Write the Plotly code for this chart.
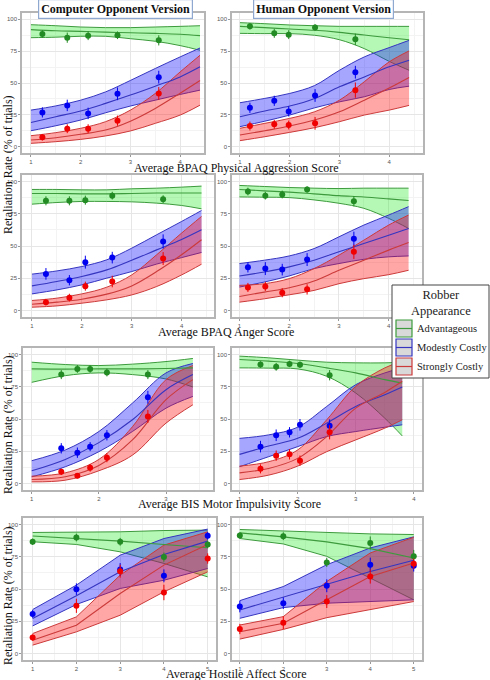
import plotly.graph_objects as go

groups = ["Advantageous", "Modestly Costly", "Strongly Costly"]
versions = ["Computer Opponent Version", "Human Opponent Version"]
x_titles = ["Average BPAQ Physical Aggression Score", "Average BPAQ Anger Score",
            "Average BIS Motor Impulsivity Score", "Average Hostile Affect Score"]
y_title = "Retaliation Rate (% of trials)"

# ---- BPAQ physical aggression ----
pa_bx = [1, 1.5, 2, 2.5, 3, 3.5, 4, 4.4]
# computer
pa_c_x = [1.23, 1.73, 2.15, 2.74, 3.57]
pa_c_y = [[88.5, 85.6, 87.2, 87.5, 83.5],
          [26.9, 32.4, 26.1, 41.5, 54.6],
          [7.3, 14.1, 14.1, 20.4, 41.8]]
pa_c_err = [[3, 4, 3.5, 3, 4], [4, 4.5, 4.5, 5, 5], [2.5, 3.5, 3.5, 4, 5]]
pa_c_hi = [[95.8, 95, 94, 93.5, 93.5, 94, 94.5, 95],
           [28.7, 32, 36.5, 43, 52, 61.4, 70.5, 77.5],
           [8.6, 11, 14.4, 19.6, 28.7, 41.8, 58.7, 71.8]]
pa_c_fit = [[91.9, 91, 90.6, 90, 89.5, 89, 88.3, 87.2],
            [19, 23.5, 28, 34, 40.5, 47.5, 54.8, 62.7],
            [5.2, 7, 9.7, 13, 20, 30, 42, 52]]
pa_c_lo = [[85.6, 86, 86.7, 86.7, 84.8, 82.8, 79.4, 75.7],
           [12.5, 16.4, 20.9, 26.6, 31.9, 36.5, 41, 44.4],
           [2.6, 3.9, 5.7, 8.4, 12.3, 18.3, 24.8, 32.6]]
# human
pa_h_x = [1.2, 1.69, 1.98, 2.51, 3.32]
pa_h_y = [[94.5, 89, 88, 93.7, 84.3],
          [30.5, 36, 27.7, 40.2, 58.5],
          [16.2, 17.5, 17, 18.3, 44.4]]
pa_h_err = [[2.5, 3.5, 3.5, 2.5, 4.5], [4, 4, 4, 5, 5], [3.5, 3.5, 3.5, 5, 6]]
pa_h_hi = [[97.4, 96.6, 95.6, 95, 94.5, 94.5, 94.5, 94.5],
           [34.5, 37.9, 41.8, 48, 60, 70.5, 77.8, 83.5],
           [14.4, 18.3, 22.2, 27.4, 36.5, 51, 66.6, 75.2]]
pa_h_fit = [[94.5, 93.5, 92.4, 91.4, 89.8, 87.7, 85.6, 84],
            [23.5, 28, 31.9, 37.9, 47, 54.8, 62.7, 67.9],
            [9.1, 12.5, 16.2, 20.9, 27.4, 36.5, 46, 54.3]]
pa_h_lo = [[89, 88.8, 88.8, 87.5, 84, 77, 67, 60],
           [15.7, 20, 24.8, 30.5, 35.2, 39.2, 44.9, 47.5],
           [4.7, 7.8, 11.2, 14.9, 19.6, 24.8, 28.7, 32.4]]

# ---- BPAQ anger ----
ang_bx = [1, 1.5, 2, 2.5, 3, 3.5, 4, 4.4]
ang_c_x = [1.28, 1.75, 2.07, 2.61, 3.63]
ang_c_y = [[85, 85, 85.5, 89, 86.3],
           [28.4, 23.5, 37.5, 41, 53.5],
           [6.5, 10, 18.9, 22.5, 40.3]]
ang_c_err = [[3.5, 3.5, 3.5, 3, 3], [4.5, 4, 5, 4.5, 5.5], [2.5, 3, 3.5, 4.5, 5]]
ang_c_hi = [[93.8, 93.8, 93.5, 93.5, 94.3, 94.8, 95.6, 96.4],
            [28.2, 30.7, 34.1, 39.3, 48.3, 58.7, 69, 77.5],
            [7.8, 9.6, 12.9, 18.1, 27.6, 43.2, 60, 72.9]]
ang_c_fit = [[90.7, 90.7, 90.4, 90.4, 90.7, 91, 91, 91],
             [19.1, 22.5, 26.4, 31.5, 39, 47, 55, 62.5],
             [4.9, 6.5, 8.8, 12.7, 19.1, 30.2, 43.2, 54.8]]
ang_c_lo = [[82.4, 83.7, 84.5, 84.5, 84.2, 83.2, 81.4, 78.8],
            [12.9, 16, 19.9, 25.1, 30.2, 36, 41, 45],
            [2.6, 3.6, 5.7, 8.3, 12.1, 18.6, 27.6, 35.9]]
ang_h_x = [1.17, 1.52, 1.86, 2.36, 3.3]
ang_h_y = [[92.2, 89, 89.9, 93.8, 84.7],
           [33.5, 32.5, 31.7, 39.5, 55.6],
           [17.9, 18.7, 13.8, 16.4, 45.5]]
ang_h_err = [[3, 3, 3, 2.5, 4], [4, 5, 4.5, 5, 5.5], [3.5, 3.5, 3.5, 4, 5.5]]
ang_h_hi = [[96.9, 96.1, 95.3, 94.8, 94.5, 94.8, 94.8, 94.8],
            [36.4, 39, 42.3, 48, 57.1, 66.2, 74, 80.5],
            [19.5, 20.8, 24.7, 32.5, 42.9, 54.5, 66.2, 74]]
ang_h_fit = [[93.8, 92.7, 91.7, 90.4, 89, 88, 86.5, 85.2],
             [26.8, 29.9, 33.8, 39, 45.5, 51.9, 58.4, 63.6],
             [10.9, 14.3, 17.7, 22.9, 31.2, 39, 46.8, 52.7]]
ang_h_lo = [[88, 87.8, 87.5, 85.7, 83.1, 79.2, 71.4, 63.6],
            [18.2, 22.1, 26.8, 32.5, 36.4, 39.7, 41.6, 42.3],
            [6.5, 9.1, 12.2, 15.6, 20.8, 24.7, 27.8, 31.2]]

# ---- BIS motor impulsivity ----
bis_c_bx = [1, 1.5, 2, 2.5, 3, 3.4]
bis_c_x = [1.44, 1.68, 1.87, 2.12, 2.73]
bis_c_y = [[84.4, 88.8, 88.8, 86, 84.4],
           [27.3, 23.9, 28.6, 37.4, 66.8],
           [9.1, 6, 12.2, 20, 52]]
bis_c_err = [[3.5, 3, 3, 3, 3.5], [4, 4, 3.5, 4, 5], [2.5, 2, 3, 3.5, 5]]
bis_c_hi = [[94, 92.2, 91.4, 92.5, 94.5, 96.9],
            [17.7, 26, 40.3, 62.3, 85.7, 93],
            [5.7, 8.3, 18.7, 44, 80.5, 91.4]]
bis_c_fit = [[88.8, 88.6, 88.8, 88.8, 89.1, 89.6],
             [9.9, 18.7, 31.7, 49.4, 72.7, 84.4],
             [3.1, 5.2, 14, 33.8, 65, 80.5]]
bis_c_lo = [[78.4, 83.6, 85.7, 84.4, 81, 74.8],
            [5.2, 13, 24.7, 40.3, 58.4, 67.5],
            [1.3, 2.6, 9.9, 22, 46.8, 61]]
bis_h_bx = [1, 1.5, 2, 2.5, 3, 3.5, 3.8]
bis_h_x = [1.36, 1.63, 1.86, 2.04, 2.55]
bis_h_y = [[92.2, 90.4, 92.7, 92, 83.9],
           [28.6, 37.4, 39.7, 45.5, 44.7],
           [11.4, 21.6, 22.6, 17.7, 39.7]]
bis_h_err = [[2.5, 3, 2.5, 2.5, 4], [4.5, 4.5, 4, 4.5, 5], [3.5, 4, 4, 4, 5.5]]
bis_h_hi = [[98.7, 97.4, 95.6, 94, 93.5, 93.5, 94],
            [35, 37.7, 43.6, 59.7, 76.6, 85.7, 89.6],
            [13.5, 16.9, 26, 49.4, 75.3, 89.6, 94.8]]
bis_h_fit = [[96.1, 94.8, 93, 89.6, 85.7, 80.5, 77.9],
             [22.6, 29.1, 35, 46.8, 59.7, 68.8, 74.8],
             [8.3, 11.7, 19.5, 36.4, 58.4, 70.6, 79.2]]
bis_h_lo = [[89.6, 89.4, 88.8, 83.1, 70.1, 50.6, 36.9],
            [13, 20.8, 28.6, 36.4, 40.3, 43.6, 45.5],
            [3.1, 6.5, 13.5, 24.7, 33.8, 42.9, 49.4]]

# ---- hostile affect ----
hos_bx = [1, 2, 3, 4, 5]
hos_c_x = [1, 2, 3, 4, 5]
hos_c_y = [[86.6, 89.9, 86.6, 74.7, 84.5],
           [30.7, 49.9, 65.1, 60.2, 91.2],
           [12.4, 37, 63.8, 47.3, 73.6]]
hos_c_err = [[2.5, 3, 3, 3.5, 3], [3, 4.5, 5, 5, 3], [2.5, 5.5, 5, 6, 4]]
hos_c_hi = [[93.8, 93.8, 94.3, 95.3, 95.6],
            [34.1, 53, 76.2, 89.1, 96.4],
            [15.5, 28.4, 60.7, 84, 94.3]]
hos_c_fit = [[91, 89.1, 87.1, 84.5, 81.9],
             [27.1, 44.7, 63.3, 76.7, 87.1],
             [10.3, 22, 46.5, 68.5, 84.5]]
hos_c_lo = [[86.6, 84.5, 78.8, 69.8, 59.4],
            [21.4, 38, 50.4, 56.8, 65.9],
            [6.5, 16.8, 29.7, 47.8, 63.3]]
hos_h_x = [1, 2, 3, 4, 5]
hos_h_y = [[91.4, 90.9, 70.6, 85.7, 75.3],
           [36.4, 39, 52.5, 68.8, 68],
           [19, 23.9, 40.3, 59.7, 69.6]]
hos_h_err = [[2.5, 3, 3.5, 5, 5], [4.5, 4.5, 5, 5.5, 4.5], [4, 5, 5, 5.5, 4]]
hos_h_hi = [[96.1, 94.8, 93.5, 92.7, 92.2],
            [41, 51.9, 68.8, 81.8, 90.4],
            [22.1, 28.6, 55.8, 77.9, 90.1]]
hos_h_fit = [[93.5, 90.4, 86.5, 81.3, 74],
             [33.8, 43.6, 53.2, 63.6, 72.2],
             [16.9, 23.4, 41.6, 59.7, 70.1]]
hos_h_lo = [[89.1, 84.9, 75.3, 58.4, 41.6],
            [27.3, 35.6, 39, 40.3, 41.6],
            [11.2, 18.7, 27.8, 33.8, 40.3]]

W, H = 490, 680
fills = ["rgba(30,230,30,0.33)", "rgba(20,20,255,0.38)", "rgba(255,20,20,0.38)"]
edges = ["#3d9b3d", "#3535c0", "#cc3a3a"]
dots = ["#238b23", "#0000f0", "#f00000"]
serif = "Liberation Serif"

# panel boxes in pixels: (left, right, top, bottom), x range
panels = [
    (pa_bx, pa_c_x, pa_c_y, pa_c_err, pa_c_hi, pa_c_fit, pa_c_lo, (22, 204, 13, 153), [0.82, 4.48]),
    (pa_bx, pa_h_x, pa_h_y, pa_h_err, pa_h_hi, pa_h_fit, pa_h_lo, (232, 423, 13, 153), [0.84, 4.68]),
    (ang_bx, ang_c_x, ang_c_y, ang_c_err, ang_c_hi, ang_c_fit, ang_c_lo, (22, 214, 175, 317), [0.8, 4.65]),
    (ang_bx, ang_h_x, ang_h_y, ang_h_err, ang_h_hi, ang_h_fit, ang_h_lo, (232, 422, 175, 317), [0.85, 4.67]),
    (bis_c_bx, bis_c_x, bis_c_y, bis_c_err, bis_c_hi, bis_c_fit, bis_c_lo, (23, 213, 348, 490), [0.87, 3.70]),
    (bis_h_bx, bis_h_x, bis_h_y, bis_h_err, bis_h_hi, bis_h_fit, bis_h_lo, (232, 422, 348, 490), [0.87, 4.14]),
    (hos_bx, hos_c_x, hos_c_y, hos_c_err, hos_c_hi, hos_c_fit, hos_c_lo, (23, 216, 518, 660), [0.78, 5.19]),
    (hos_bx, hos_h_x, hos_h_y, hos_h_err, hos_h_hi, hos_h_fit, hos_h_lo, (232, 422, 518, 660), [0.82, 5.19]),
]

fig = go.Figure()
layout = {}
for i, (bx, px, py, perr, hi, fit, lo, box, xr) in enumerate(panels):
    n = i + 1
    xa = "x" if n == 1 else f"x{n}"
    ya = "y" if n == 1 else f"y{n}"
    shape = "linear" if i >= 6 else "spline"
    # ribbons
    for g in range(3):
        fig.add_trace(go.Scatter(x=bx, y=lo[g], mode="lines", xaxis=xa, yaxis=ya,
                                 line=dict(color=edges[g], width=1, shape=shape),
                                 showlegend=False, hoverinfo="skip"))
        fig.add_trace(go.Scatter(x=bx, y=hi[g], mode="lines", xaxis=xa, yaxis=ya,
                                 fill="tonexty", fillcolor=fills[g],
                                 line=dict(color=edges[g], width=1, shape=shape),
                                 showlegend=False, hoverinfo="skip"))
    # fitted lines
    for g in range(3):
        fig.add_trace(go.Scatter(x=bx, y=fit[g], mode="lines", xaxis=xa, yaxis=ya,
                                 line=dict(color=edges[g], width=1.1, shape=shape),
                                 showlegend=False, name=groups[g]))
    # observed means
    for g in range(3):
        fig.add_trace(go.Scatter(x=px, y=py[g], mode="markers", xaxis=xa, yaxis=ya,
                                 marker=dict(color=dots[g], size=6),
                                 error_y=dict(type="data", array=perr[g], width=0,
                                              thickness=1, color=dots[g]),
                                 showlegend=False, name=groups[g]))

    l, r, t, b = box
    common = dict(showgrid=True, gridcolor="#e6e6e6", gridwidth=0.8,
                  zeroline=False, showline=True, mirror=True,
                  linecolor="#b5b5b5", linewidth=1.5,
                  ticks="outside", ticklen=2, tickcolor="#999999",
                  tickfont=dict(size=6, color="#555555", family="Liberation Sans"))
    layout["xaxis" if n == 1 else f"xaxis{n}"] = dict(
        domain=[l / W, r / W], range=xr, anchor=ya, tickmode="linear", tick0=1, dtick=1,
        minor=dict(dtick=0.5, tick0=0.5, showgrid=True, gridcolor="#f3f3f3", gridwidth=0.6),
        **common)
    layout["yaxis" if n == 1 else f"yaxis{n}"] = dict(
        domain=[1 - b / H, 1 - t / H], range=[-5, 105], anchor=xa,
        tickmode="linear", tick0=0, dtick=25,
        minor=dict(dtick=12.5, showgrid=True, gridcolor="#f3f3f3", gridwidth=0.6),
        **common)


def note(px_x, px_y, text, **kw):
    d = dict(x=px_x / W, y=1 - px_y / H, xref="paper", yref="paper", text=text,
             showarrow=False, xanchor="center", yanchor="middle")
    d.update(kw)
    return d


annotations = []
# column headers
for cx, txt in zip([115, 323.5], versions):
    annotations.append(note(cx, 9, f"<b>{txt}</b>",
                            font=dict(family=serif, size=12, color="#111111"),
                            bgcolor="white", bordercolor="#8fa8d0", borderwidth=1.2,
                            borderpad=2))
# x axis titles
for (cx, cy), txt in zip([(236, 168), (226, 332), (229, 504), (236, 674)], x_titles):
    annotations.append(note(cx, cy, txt, font=dict(family=serif, size=12, color="#111111")))
# y axis titles
for cy in [165, 425, 596]:
    annotations.append(note(8, cy, y_title, textangle=-90,
                            font=dict(family=serif, size=12, color="#111111")))

# legend drawn by hand (ribbon keys)
shapes = [dict(type="rect", xref="paper", yref="paper", x0=392 / W, x1=489 / W,
               y0=1 - 378 / H, y1=1 - 285 / H, line=dict(color="#444444", width=1),
               fillcolor="white", layer="above")]
annotations.append(note(441, 303, "Robber<br>Appearance",
                        font=dict(family=serif, size=12.5, color="#222222")))
for g, (kt, kb) in enumerate([(320, 337), (339, 356), (358, 375)]):
    shapes.append(dict(type="rect", xref="paper", yref="paper", x0=396 / W, x1=412 / W,
                       y0=1 - kb / H, y1=1 - kt / H, fillcolor="#d9d9d9",
                       line=dict(color=edges[g], width=1.2), layer="above"))
    shapes.append(dict(type="line", xref="paper", yref="paper", x0=396 / W, x1=412 / W,
                       y0=1 - (kt + kb) / 2 / H, y1=1 - (kt + kb) / 2 / H,
                       line=dict(color=edges[g], width=1.2), layer="above"))
    annotations.append(note(415, (kt + kb) / 2, groups[g], xanchor="left",
                            font=dict(family=serif, size=10.5, color="#222222")))

fig.update_layout(width=W, height=H, margin=dict(l=0, r=0, t=0, b=0),
                  paper_bgcolor="white", plot_bgcolor="white",
                  annotations=annotations, shapes=shapes, **layout)
# the page's default 8px body margin would push the figure off the window
fig.write_html("out.html", config={"displayModeBar": False},
               post_script="document.body.style.margin = '0px';")
